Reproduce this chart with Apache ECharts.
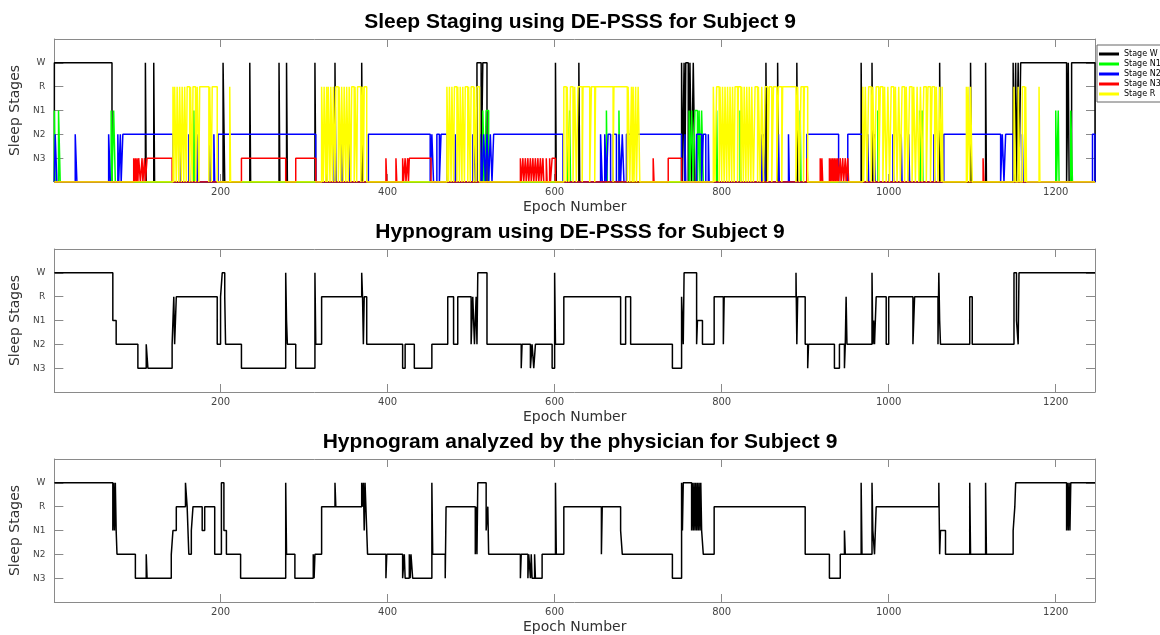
<!DOCTYPE html>
<html>
<head>
<meta charset="utf-8">
<script src="https://cdn.jsdelivr.net/npm/echarts@6/dist/echarts.min.js"></script>
<style>
  html, body { margin: 0; padding: 0; background: #fff; }
  #chart { width: 1160px; height: 635px; }
</style>
</head>
<body>
<div id="chart"></div>
<script>
// stage levels on the y axis (0 = off / baseline)
var stageTicks = ['', 'N3', 'N2', 'N1', 'R', 'W', ''];
var stageTickValues = [1, 2, 3, 4, 5];
var stageLevel = { N3: 1, N2: 2, N1: 3, R: 4, W: 5 };
var epochTicks = [200, 400, 600, 800, 1000, 1200];
var firstEpoch = 1;
var lastEpoch = 1247;

var titles = [
  'Sleep Staging using DE-PSSS for Subject 9',
  'Hypnogram using DE-PSSS for Subject 9',
  'Hypnogram analyzed by the physician for Subject 9'
];

// top panel: epochs where each stage output is on, [start, end]
var stageWOn = [[1,70],[110,111],[120,121],[203,205],[235,236],[270,271],[279,280],[313,314],[337,338],[369,370],
  [507,512],[514,519],[601,602],[629,630],[752,753],[755,756],[757,760],[762,764],[766,768],[853,854],[867,868],
  [890,891],[967,968],[980,981],[1061,1062],[1098,1099],[1116,1117],[1149,1150],[1152,1153],[1155,1156],
  [1158,1213],[1215,1216],[1219,1247]];
var stageN1On = [[1,2],[6,8],[69,70],[72,74],[168,169],[514,516],[518,521],[615,616],[618,619],[662,663],[677,678],
  [761,762],[764,766],[768,771],[773,774],[776,778],[794,795],[822,823],[894,895],[987,988],[1037,1038],[1040,1041],
  [1200,1201],[1203,1204],[1218,1220]];
var stageN2On = [[2,4],[26,28],[66,68],[77,78],[80,81],[83,143],[152,153],[162,163],[172,173],[187,188],[192,193],
  [197,314],[326,327],[336,337],[345,346],[354,355],[377,451],[453,455],[459,462],[464,471],[481,482],[502,503],
  [505,506],[511,513],[515,517],[519,521],[523,525],[527,610],[655,657],[660,662],[664,667],[670,674],[677,679],
  [681,683],[686,752],[756,757],[770,776],[778,781],[784,785],[848,849],[850,852],[868,869],[880,881],[902,940],
  [951,969],[975,976],[983,984],[1005,1006],[1015,1016],[1024,1025],[1054,1055],[1066,1134],[1136,1138],
  [1140,1149],[1160,1161],[1244,1247]];
var stageN3On = [[96,97],[98,99],[100,101],[102,104],[106,107],[109,110],[112,142],[225,278],[290,314],
  [398,399],[410,411],[418,419],[421,422],[424,425],[426,452],[559,560],[562,563],[565,566],[568,569],[571,572],
  [574,575],[577,578],[580,581],[583,584],[586,587],[590,591],[594,595],[597,601],[718,719],[736,752],
  [902,903],[918,919],[920,921],[929,930],[931,932],[933,934],[935,936],[937,938],[939,940],[942,943],
  [945,946],[948,949],[951,952],[1113,1114]];
var stageROn = [[143,144],[145,147],[148,150],[151,153],[154,156],[157,159],[160,163],[164,166],[167,170],
  [172,174],[175,186],[187,189],[190,196],[211,212],[321,323],[324,326],[327,328],[329,331],[332,334],[335,337],
  [338,341],[342,344],[345,347],[348,350],[351,353],[354,356],[357,360],[361,363],[364,368],[370,371],[372,375],
  [471,473],[474,476],[477,479],[480,483],[484,486],[487,489],[490,492],[493,496],[497,499],[500,503],[504,506],
  [507,510],[611,614],[615,617],[619,622],[624,626],[628,633],[634,642],[644,648],[649,670],[671,687],[688,690],
  [692,693],[694,695],[697,698],[700,702],[790,792],[794,797],[798,800],[801,803],[804,806],[807,809],[810,812],
  [813,815],[816,819],[820,823],[824,826],[827,829],[830,832],[833,835],[836,838],[840,843],[844,846],[848,850],
  [852,855],[857,860],[862,866],[868,872],[873,889],[891,893],[895,898],[899,903],[969,970],[972,974],[976,979],
  [981,983],[985,988],[990,993],[995,997],[999,1001],[1003,1006],[1008,1010],[1012,1014],[1016,1019],[1021,1023],
  [1025,1028],[1030,1032],[1034,1036],[1038,1040],[1042,1045],[1047,1050],[1052,1055],[1057,1059],[1061,1063],
  [1064,1065],[1093,1094],[1095,1097],[1098,1100],[1150,1152],[1155,1157],[1160,1163],[1164,1165],[1180,1181]];

// hypnograms: [epoch where a stage begins, stage]
var predictedHypnogram = [[1,'W'],[71,'N1'],[75,'N2'],[101,'N3'],[111,'N2'],[113,'N3'],[142,'N2'],[144,'R'],
  [145,'N2'],[147,'R'],[196,'N2'],[200,'R'],[202,'W'],[205,'R'],[206,'N2'],[225,'N3'],[278,'W'],[279,'N1'],
  [280,'N2'],[290,'N3'],[313,'W'],[314,'N2'],[321,'R'],[369,'W'],[370,'R'],[371,'N2'],[372,'R'],[375,'N2'],
  [418,'N3'],[421,'N2'],[432,'N3'],[453,'N2'],[472,'R'],[479,'N2'],[484,'R'],[500,'N2'],[502,'R'],[504,'N2'],
  [506,'R'],[507,'N2'],[508,'W'],[519,'N2'],[560,'N3'],[561,'N2'],[571,'N3'],[573,'N2'],[575,'N3'],[577,'N2'],
  [597,'N3'],[600,'W'],[601,'N2'],[611,'R'],[679,'N2'],[685,'R'],[691,'N2'],[741,'N3'],[752,'R'],[754,'N2'],
  [755,'W'],[770,'N2'],[771,'N1'],[777,'N2'],[791,'R'],[802,'N2'],[803,'R'],[889,'W'],[890,'N2'],[891,'R'],
  [900,'N2'],[903,'N3'],[904,'N2'],[935,'N3'],[941,'N2'],[947,'N3'],[948,'N2'],[949,'R'],[950,'N2'],[980,'W'],
  [981,'N2'],[982,'N1'],[983,'N2'],[985,'R'],[997,'N2'],[1000,'R'],[1029,'N2'],[1031,'R'],[1059,'N2'],[1060,'W'],
  [1061,'N1'],[1062,'N2'],[1097,'R'],[1100,'N2'],[1150,'W'],[1153,'N1'],[1155,'N2'],[1156,'W']];
var physicianHypnogram = [[1,'W'],[71,'N1'],[72,'W'],[73,'N1'],[74,'W'],[75,'N1'],[76,'N2'],[98,'N3'],[111,'N2'],
  [112,'N3'],[141,'N2'],[143,'N1'],[147,'R'],[158,'W'],[160,'R'],[162,'N2'],[165,'N1'],[167,'R'],[178,'N1'],
  [181,'R'],[193,'N2'],[201,'W'],[204,'N1'],[207,'N2'],[224,'N3'],[278,'W'],[279,'N2'],[289,'N3'],[311,'N2'],
  [312,'N3'],[313,'N2'],[321,'R'],[337,'W'],[338,'R'],[369,'W'],[370,'R'],[371,'W'],[372,'N1'],[373,'W'],
  [374,'R'],[376,'N2'],[398,'N3'],[399,'N2'],[418,'N3'],[420,'N2'],[421,'N3'],[426,'N2'],[427,'N3'],[428,'N2'],
  [430,'N3'],[453,'W'],[454,'N2'],[469,'N3'],[470,'R'],[505,'N2'],[506,'R'],[507,'N2'],[508,'W'],[518,'N1'],
  [520,'R'],[521,'N2'],[559,'N3'],[560,'N2'],[568,'N3'],[569,'N2'],[571,'N3'],[572,'N2'],[573,'N3'],[576,'N2'],
  [577,'N3'],[585,'N2'],[601,'W'],[602,'N2'],[611,'R'],[656,'N2'],[657,'R'],[679,'N1'],[681,'N2'],[741,'N3'],
  [752,'W'],[753,'N1'],[754,'W'],[764,'N1'],[765,'W'],[766,'N1'],[767,'W'],[768,'N1'],[769,'W'],[770,'N1'],
  [771,'W'],[772,'N1'],[773,'W'],[774,'N1'],[775,'W'],[776,'N1'],[778,'N2'],[791,'R'],[900,'N2'],[929,'N3'],
  [942,'N2'],[947,'N1'],[948,'N2'],[967,'W'],[968,'N2'],[980,'W'],[981,'N1'],[983,'N2'],[985,'R'],[1060,'W'],
  [1061,'N2'],[1062,'N1'],[1068,'N2'],[1097,'W'],[1098,'N2'],[1116,'W'],[1117,'N2'],[1149,'N1'],[1151,'R'],
  [1152,'W'],[1213,'N1'],[1214,'W'],[1215,'N1'],[1216,'W'],[1217,'N1'],[1218,'W']];

var stageSeries = [
  { name: 'Stage W', on: stageWOn, level: 5, color: '#000000' },
  { name: 'Stage N1', on: stageN1On, level: 3, color: '#00ff00' },
  { name: 'Stage N2', on: stageN2On, level: 2, color: '#0000ff' },
  { name: 'Stage N3', on: stageN3On, level: 1, color: '#ff0000' },
  { name: 'Stage R', on: stageROn, level: 4, color: '#ffff00' }
];

function pulses(intervals, level) {
  var pts = [[firstEpoch, 0]];
  intervals.forEach(function(iv) {
    pts.push([iv[0], 0], [iv[0], level], [iv[1], level], [iv[1], 0]);
  });
  pts.push([lastEpoch, 0]);
  return pts;
}

function steps(changes) {
  var pts = changes.map(function(c) { return [c[0], stageLevel[c[1]]]; });
  pts.push([lastEpoch, stageLevel[changes[changes.length - 1][1]]]);
  return pts;
}

var frame = '#8a8a8a';
var labelColor = '#444';
var gridTops = [39, 249, 459];
var gridHeight = 143;

var chart = echarts.init(document.getElementById('chart'), null, { renderer: 'canvas' });

var grids = [], xAxes = [], yAxes = [], texts = [];
gridTops.forEach(function(top, i) {
  grids.push({ left: 53, right: 65, top: top, height: gridHeight, containLabel: false });
  texts.push({
    type: 'text', left: 'center', top: top - 27,
    style: { text: titles[i], font: 'bold 21px "Liberation Sans", Arial, sans-serif', fill: '#000' }
  });
});
gridTops.forEach(function(top, i) {
  xAxes.push({
    type: 'value', gridIndex: i, min: firstEpoch, max: lastEpoch, position: 'bottom',
    name: 'Epoch Number', nameLocation: 'middle', nameGap: 18,
    nameTextStyle: { fontSize: 14, color: '#333', fontFamily: 'DejaVu Sans' },
    axisLine: { onZero: false, lineStyle: { color: frame, width: 1 } },
    axisTick: { inside: true, length: 8, lineStyle: { color: frame }, customValues: epochTicks },
    axisLabel: {
      color: labelColor, fontSize: 10, margin: 5, fontFamily: 'DejaVu Sans', customValues: epochTicks,
      formatter: function(v) { return String(v); }
    },
    splitLine: { show: false }
  });
});
gridTops.forEach(function(top, i) {
  xAxes.push({
    type: 'value', gridIndex: i, min: firstEpoch, max: lastEpoch, position: 'top',
    axisLine: { onZero: false, lineStyle: { color: frame, width: 1 } },
    axisTick: { inside: true, length: 8, lineStyle: { color: frame }, customValues: epochTicks },
    axisLabel: { show: false, customValues: epochTicks },
    splitLine: { show: false }
  });
});
gridTops.forEach(function(top, i) {
  yAxes.push({
    type: 'value', gridIndex: i, min: 0, max: 6, interval: 1, position: 'left',
    name: 'Sleep Stages', nameLocation: 'middle', nameGap: 28, nameRotate: 90,
    nameTextStyle: { fontSize: 14, color: '#333', fontFamily: 'DejaVu Sans' },
    axisLine: { show: true, onZero: false, lineStyle: { color: frame, width: 1 } },
    axisTick: { inside: true, length: 9, lineStyle: { color: frame }, customValues: stageTickValues },
    axisLabel: {
      color: labelColor, fontSize: 9, margin: 9, fontFamily: 'DejaVu Sans', customValues: stageTickValues,
      formatter: function(v) { return stageTicks[v] || ''; }
    },
    splitLine: { show: false }
  });
});
gridTops.forEach(function(top, i) {
  yAxes.push({
    type: 'value', gridIndex: i, min: 0, max: 6, interval: 1, position: 'right',
    axisLine: { show: true, onZero: false, lineStyle: { color: frame, width: 1 } },
    axisTick: { inside: true, length: 9, lineStyle: { color: frame }, customValues: stageTickValues },
    axisLabel: { show: false, customValues: stageTickValues },
    splitLine: { show: false }
  });
});

var series = stageSeries.map(function(s) {
  return {
    name: s.name, type: 'line', xAxisIndex: 0, yAxisIndex: 0,
    data: pulses(s.on, s.level), showSymbol: false, symbol: 'none',
    lineStyle: { color: s.color, width: 1.5 }, itemStyle: { color: s.color }
  };
});
series.push({
  name: 'DE-PSSS', type: 'line', xAxisIndex: 1, yAxisIndex: 1, step: 'end',
  data: steps(predictedHypnogram), symbol: 'none', lineStyle: { color: '#000', width: 1.5 }
});
series.push({
  name: 'Physician', type: 'line', xAxisIndex: 2, yAxisIndex: 2, step: 'end',
  data: steps(physicianHypnogram), symbol: 'none', lineStyle: { color: '#000', width: 1.5 }
});

chart.setOption({
  animation: false,
  backgroundColor: '#fff',
  graphic: texts,
  legend: {
    data: stageSeries.map(function(s) { return { name: s.name, icon: 'rect' }; }),
    orient: 'vertical', left: 1097, top: 45,
    itemWidth: 20, itemHeight: 3, itemGap: 2,
    padding: [5, 6, 4, 2],
    borderColor: '#666', borderWidth: 1,
    textStyle: { fontSize: 8, color: '#000', fontFamily: 'DejaVu Sans' }
  },
  grid: grids,
  xAxis: xAxes,
  yAxis: yAxes,
  series: series
});
window.addEventListener('resize', function() { chart.resize(); });
</script>
</body>
</html>
